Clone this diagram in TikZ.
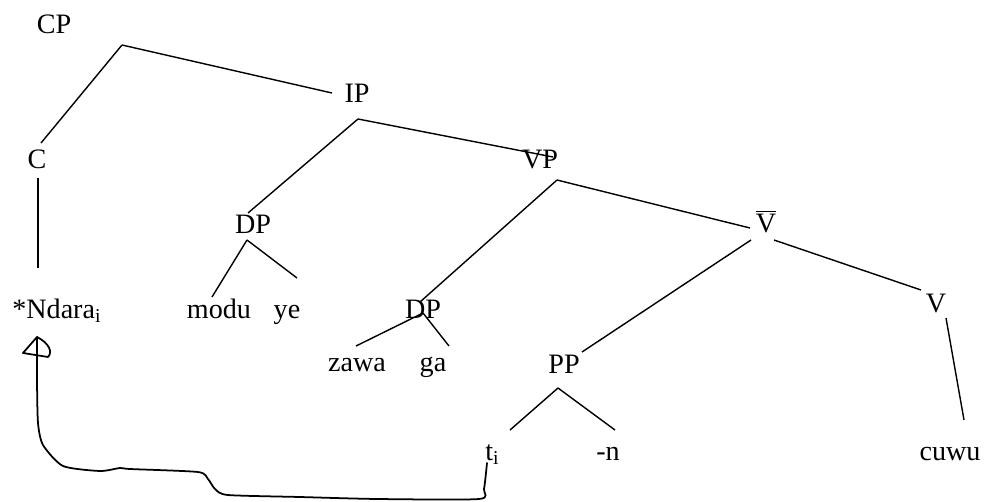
\documentclass[tikz,border=0pt]{standalone}
\usepackage{fontspec}
\setmainfont{Liberation Serif}
\begin{document}
\begin{tikzpicture}[%
        x=0.02cm, y=-0.02cm,
        mylabel/.style={anchor=base, inner sep=0pt, font=\fontsize{16}{19}\selectfont},
        mybranch/.style={line width=0.8pt},
        mytrace/.style={line width=1pt, line join=round, line cap=round}
    ]
    \useasboundingbox (0,0) rectangle (984,501);
    % labels
    \node [mylabel] (cp) at (54,33) {CP};
    \node [mylabel] (ip) at (357,102) {IP};
    \node [mylabel] (c) at (37,168) {C};
    \node [mylabel] (vp) at (540,168) {VP};
    \node [mylabel] (dpa) at (253,233) {DP};
    \node [mylabel] (vbar) at (766,232) {$\overline{\mbox{V}}$};
    \node [mylabel, anchor=base west] (ndara) at (12,318) {*Ndara\textsubscript{i}};
    \node [mylabel] (modu) at (219,318) {modu};
    \node [mylabel] (ye) at (287,318) {ye};
    \node [mylabel] (dpb) at (423,318) {DP};
    \node [mylabel] (zawa) at (357,371) {zawa};
    \node [mylabel] (ga) at (433,371) {ga};
    \node [mylabel] (pp) at (564,373) {PP};
    \node [mylabel] (v) at (936,312) {V};
    \node [mylabel, anchor=base west] (ti) at (485,460) {t\textsubscript{i}};
    \node [mylabel] (n) at (608,460) {-n};
    \node [mylabel] (cuwu) at (950,460) {cuwu};
    % branch ends
    \foreach \myname/\mycoord in {cpTop/{122,45}, cpL/{41,143}, cpR/{332,93},
        cUp/{38,178}, cDown/{38,268},
        ipTop/{358,119}, ipL/{248,213}, ipR/{553,157},
        dpaTop/{247,240}, dpaL/{212,297}, dpaR/{297,278},
        vpTop/{557,180}, vpL/{420,302}, vpR/{750,228},
        dpbTop/{423,313}, dpbL/{356,346}, dpbR/{449,346},
        vbarL/{751,240}, ppUp/{582,352}, vbarR/{774,240}, vUp/{921,290},
        vDown/{946,318}, cuwuUp/{964,420},
        ppTop/{558,388}, ppL/{510,430}, ppR/{615,430}}
        \coordinate (\myname) at (\mycoord);
    \foreach \mya/\myb in {cpTop/cpL, cpTop/cpR, cUp/cDown, ipTop/ipL, ipTop/ipR,
        dpaTop/dpaL, dpaTop/dpaR, vpTop/vpL, vpTop/vpR, dpbTop/dpbL, dpbTop/dpbR,
        vbarL/ppUp, vbarR/vUp, vDown/cuwuUp, ppTop/ppL, ppTop/ppR}
        \draw [mybranch] (\mya) -- (\myb);
    % movement trace
    \coordinate (traceStart) at (487,463);
    \coordinate (traceTip) at (37,337);
    \draw [mytrace] plot [smooth, tension=0.4] coordinates {(traceStart) (484,489)
        (479,499) (378,499) (300,497) (228,495) (215,489) (208,479) (198,472)
        (130,469) (120,468) (100,471) (63,466) (43,445) (38,423) (37,380) (traceTip)};
    \draw [mytrace] (traceTip) -- (23,353) -- (48,357)
        .. controls (53,352) and (49,343) .. (traceTip);
\end{tikzpicture}
\end{document}
